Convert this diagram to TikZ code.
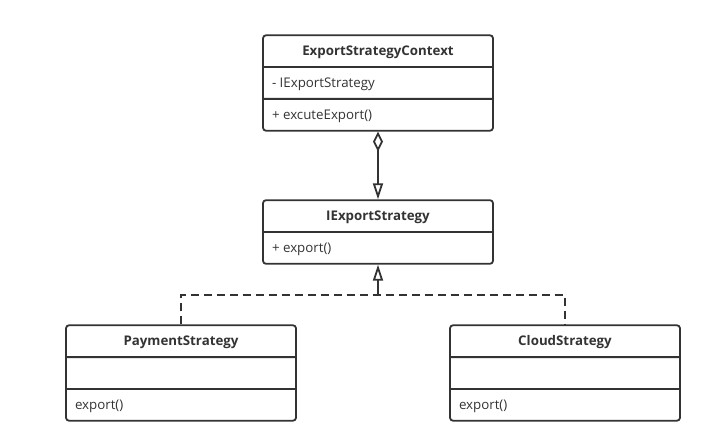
\documentclass[tikz,border=0pt]{standalone}
\usepackage{fontspec}
\setmainfont{Open Sans}
\usetikzlibrary{shapes.multipart,arrows.meta}
\definecolor{umlgrey}{HTML}{333333}
\newcommand{\rowstrut}{\rule[-10.25pt]{0pt}{30pt}}

\begin{document}
\begin{tikzpicture}[x=1pt,y=-1pt,
    umlclass/.style={rectangle split, rectangle split parts=3,
        rectangle split part align={center,left,left},
        draw=umlgrey, line width=1.8pt, rounded corners=3pt,
        minimum width=230pt, inner xsep=9pt, inner ysep=0pt,
        text=umlgrey, font=\fontsize{13.3}{15}\selectfont},
    umlline/.style={draw=umlgrey, line width=1.8pt},
    aggr/.style={umlline, {Diamond[open,width=10pt,length=20pt]}-{Triangle[open,width=10pt,length=16pt]}},
    realize/.style={umlline, -{Triangle[open,width=10pt,length=16pt]}},
    dashline/.style={umlline, dash pattern=on 8pt off 5pt}]
    \useasboundingbox (0,0) rectangle (719,443);
    % Context and interface
    \node[umlclass] (ctx) at (378,83)
        {\rowstrut\textbf{ExportStrategyContext}\nodepart{second}\rowstrut- IExportStrategy\nodepart{third}\rowstrut+ excuteExport()};
    \node[umlclass, rectangle split parts=2] (iface) at (378,232)
        {\rowstrut\textbf{IExportStrategy}\nodepart{second}\rowstrut+ export()};
    % Concrete strategies
    \node[umlclass] (pay) at (181,373)
        {\rowstrut\textbf{PaymentStrategy}\nodepart{second}\rowstrut\nodepart{third}\rowstrut export()};
    \node[umlclass] (cloud) at (565,373)
        {\rowstrut\textbf{CloudStrategy}\nodepart{second}\rowstrut\nodepart{third}\rowstrut export()};
    % Aggregation
    \draw[aggr] (ctx.south) -- (iface.north);
    % Realization
    \coordinate (join) at (378,295);
    \draw[dashline] (pay.north) |- (join) -| (cloud.north);
    \draw[realize] (join) -- (iface.south);
\end{tikzpicture}
\end{document}
